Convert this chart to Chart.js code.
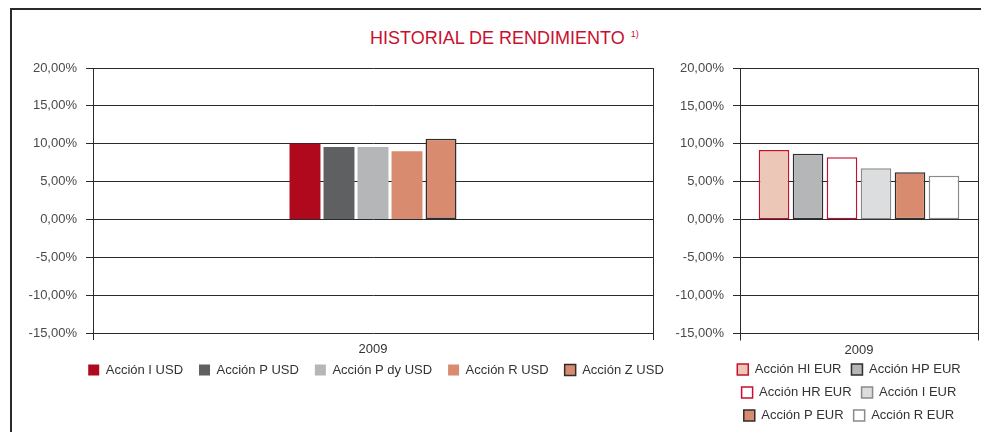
<!DOCTYPE html>
<html>
<head>
<meta charset="utf-8">
<title>Historial de rendimiento</title>
<script src="https://cdn.jsdelivr.net/npm/chart.js@4.4.0/dist/chart.umd.min.js"></script>
<style>
    body { margin: 0; width: 981px; height: 432px; overflow: hidden; background: #fff; position: relative;
           font-family: "Liberation Sans", Arial, sans-serif; }
    #frame { position: absolute; left: 10px; top: 8px; width: 975px; height: 430px;
             border-top: 2px solid #2a2a2a; border-left: 2px solid #2a2a2a; }
    #title { position: absolute; left: 370px; top: 29px; font-size: 18px; line-height: 18px;
             color: #c8102e; white-space: nowrap; }
    #title span { font-size: 9px; position: relative; top: -7px; margin-left: 6px; }
    #leftChart { position: absolute; left: 0; top: 0; }
    #rightChart { position: absolute; left: 670px; top: 0; }
</style>
</head>
<body>
<div id="frame"></div>
<div id="title">HISTORIAL DE RENDIMIENTO<span>1)</span></div>
<canvas id="leftChart" width="696" height="432"></canvas>
<canvas id="rightChart" width="311" height="432"></canvas>

<script>
// Data
const years = ['2009'];
const yTicks = [-15, -10, -5, 0, 5, 10, 15, 20];

const usdSeries = ['Acción I USD', 'Acción P USD', 'Acción P dy USD', 'Acción R USD', 'Acción Z USD'];
const usdValues = [10.0, 9.55, 9.55, 9.0, 10.65];

const eurSeries = ['Acción HI EUR', 'Acción HP EUR', 'Acción HR EUR', 'Acción I EUR', 'Acción P EUR', 'Acción R EUR'];
const eurValues = [9.2, 8.7, 8.25, 6.8, 6.25, 5.8];

// Styles
const usdFill = ['#b0091e', '#5f6062', '#b5b6b7', '#d98b70', '#d98b70'];
const usdBorder = ['#b0091e', '#5f6062', '#b5b6b7', '#d98b70', '#2e2e2e'];
const usdBorderWidth = [0, 0, 0, 0, 1.5];

const eurFill = ['#ecc6b6', '#b5b6b8', '#ffffff', '#dcdddf', '#d98b70', '#ffffff'];
const eurBorder = ['#c8102e', '#2e2e2e', '#c8102e', '#8a8a8a', '#2e2e2e', '#8a8a8a'];

Chart.defaults.font.family = '"Liberation Sans", Arial, sans-serif';
Chart.defaults.font.size = 13;
Chart.defaults.color = '#444';

const gridColor = '#2a2a2a';

function pct(v) {
    return v.toFixed(2).replace('.', ',') + '%';
}

// tick labels may sit outside the (narrow) scale box, so don't clip them
function noClip(s) {
    s._computeLabelArea = () => null;
}

function yScale(width) {
    return {
        min: yTicks[0],
        max: yTicks[yTicks.length - 1],
        afterBuildTicks: s => { s.ticks = yTicks.map(v => ({ value: v })); },
        grid: { color: gridColor, tickLength: 7 },
        border: { color: gridColor },
        ticks: { padding: 9, color: '#4a4a4a', callback: v => pct(v) },
        afterFit: s => { s.width = width; noClip(s); }
    };
}

function xScale(height) {
    return {
        grid: { offset: true, color: gridColor, tickLength: 7 },
        border: { display: false },
        ticks: { padding: 2, color: '#333' },
        afterFit: s => { s.height = height; noClip(s); }
    };
}

function legendOpts(pad) {
    return {
        position: 'bottom',
        labels: { boxWidth: 11, boxHeight: 11, padding: pad, color: '#333', font: { size: 13 } }
    };
}

// Left chart: USD share classes
new Chart(document.getElementById('leftChart'), {
    type: 'bar',
    data: {
        labels: years,
        datasets: usdSeries.map((name, i) => ({
            label: name,
            data: [usdValues[i]],
            backgroundColor: usdFill[i],
            borderColor: usdBorder[i],
            borderWidth: usdBorderWidth[i],
            borderSkipped: false,
            categoryPercentage: 0.3036,
            barPercentage: 0.91
        }))
    },
    options: {
        responsive: false,
        animation: false,
        events: [],
        layout: { padding: { left: 56, right: 0, top: 68, bottom: 45.5 } },
        scales: {
            x: xScale(14.5),
            y: yScale(37),
            yR: {
                axis: 'y',
                position: 'right',
                grid: { display: false, drawTicks: false },
                border: { display: false },
                ticks: { display: false },
                afterFit: s => { s.width = 43; }
            }
        },
        plugins: {
            legend: legendOpts(16),
            tooltip: { enabled: false }
        }
    }
});

// Right chart: EUR share classes
new Chart(document.getElementById('rightChart'), {
    type: 'bar',
    data: {
        labels: years,
        datasets: eurSeries.map((name, i) => ({
            label: name,
            data: [eurValues[i]],
            backgroundColor: eurFill[i],
            borderColor: eurBorder[i],
            borderWidth: 1.5,
            borderSkipped: false,
            categoryPercentage: 0.857,
            barPercentage: 0.9
        }))
    },
    options: {
        responsive: false,
        animation: false,
        events: [],
        layout: { padding: { left: 50, right: 3, top: 68, bottom: 0 } },
        scales: {
            x: xScale(19.5),
            y: yScale(20)
        },
        plugins: {
            legend: legendOpts(10),
            tooltip: { enabled: false }
        }
    }
});
</script>
</body>
</html>
